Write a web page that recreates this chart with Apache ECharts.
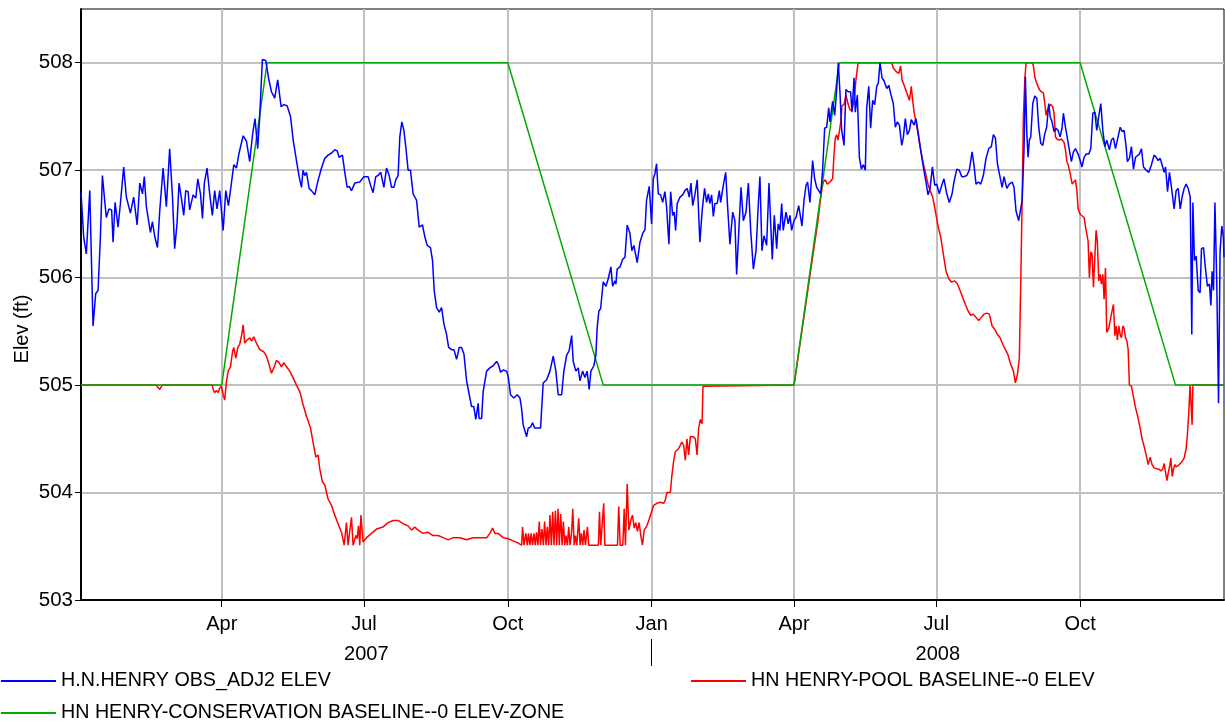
<!DOCTYPE html>
<html><head><meta charset="utf-8">
<script src="https://cdn.jsdelivr.net/npm/echarts@6/dist/echarts.min.js"></script>
<style>html,body{margin:0;padding:0;background:#fff}#c{width:1225px;height:725px}</style>
</head><body><div id="c"></div>
<script>
// x values are days since 2007-01-01
const monthTickDays = [90,181,273,365,456,547,639];
const monthTickLabels = ['Apr','Jul','Oct','Jan','Apr','Jul','Oct'];
const yearLabelDays = [182.5,548];
const yearLabels = ['2007','2008'];
const yearSeparatorDays = [365];
const yTicks = [503,504,505,506,507,508];
const seriesNames = ['H.N.HENRY OBS_ADJ2 ELEV','HN HENRY-POOL BASELINE--0 ELEV','HN HENRY-CONSERVATION BASELINE--0 ELEV-ZONE'];

const blueObs = [[0,506.80],[1.7,506.38],[3.4,506.22],[5.6,506.81],[6.8,506.81],[7.7,505.55],[9.4,505.85],[10.9,505.88],[12.4,506.38],[13.7,506.95],[15,506.74],[16.2,506.56],[17.9,506.64],[19.6,506.63],[20.5,506.33],[21.8,506.70],[23.7,506.47],[25.2,506.69],[27.3,507.03],[29,506.75],[31.6,506.60],[33.7,506.75],[35.9,506.49],[37.6,506.88],[39.3,506.78],[40.5,506.94],[41.8,506.66],[44.4,506.42],[45.7,506.52],[47.2,506.38],[48.9,506.28],[50.4,506.63],[52.5,507.02],[54.6,506.66],[56.7,507.20],[58.5,506.75],[59.9,506.27],[61.4,506.50],[62.7,506.88],[64.2,506.74],[65.7,506.58],[67,506.81],[68.5,506.80],[69.5,506.63],[71.7,506.77],[73.4,506.74],[74.7,506.92],[76.4,506.78],[77.7,506.55],[78.9,506.88],[80.6,507.02],[82.3,506.78],[84,506.58],[85.5,506.81],[87,506.64],[88.7,506.81],[90.9,506.44],[92.6,506.81],[94.3,506.67],[96.2,506.88],[97.7,507.05],[99.4,507.02],[101.1,507.16],[103.7,507.32],[105.8,507.27],[107.9,507.08],[109.7,507.33],[111.3,507.48],[113,507.20],[114.3,507.50],[116,508.03],[118.2,508.02],[119.9,507.86],[121.8,507.73],[123.9,507.67],[125.8,507.84],[128,507.59],[129.7,507.61],[131.8,507.60],[134,507.50],[135.7,507.28],[137.8,507.09],[139.5,506.94],
[141.0,506.84],[142.0,507.00],[143.1,506.95],[144.2,506.98],[145.9,506.83],[147.4,506.81],[149.5,506.77],[151.7,506.91],[153.8,507.02],[155.9,507.11],[158.0,507.14],[160.2,507.16],[162.3,507.19],[163.8,507.18],[165.1,507.12],[167.2,507.14],[168.7,506.98],[170.2,506.84],[171.5,506.85],[173.0,506.81],[175.1,506.88],[178.3,506.89],[180.9,506.94],[183.6,506.94],[185.2,506.86],[186.8,506.79],[188.5,506.94],[190.0,506.95],[191.7,506.98],[193.7,506.84],[195.4,507.02],[197.1,506.95],[198.6,506.84],[200.1,506.84],[201.3,506.91],[202.8,506.95],[203.9,507.31],[205.2,507.45],[206.5,507.37],[207.7,507.22],[209.2,507.00],[210.7,507.00],[212.4,506.78],[214.6,506.72],[216.3,506.47],[218.4,506.49],[219.9,506.38],[221.4,506.30],[223.5,506.28],[224.8,506.16],[225.9,505.88],[227.4,505.72],[229.1,505.68],[230.6,505.72],[232.1,505.57],[233.8,505.47],[235.1,505.35],[237.0,505.33],[238.5,505.33],[240.2,505.24],[241.9,505.35],[243.4,505.35],[244.9,505.29],[246.6,505.04],[248.3,504.91],[249.8,504.80],[251.2,504.80],[252.5,504.68],[254.0,504.83],[254.6,504.69],[256.2,504.69],[257.2,504.94],[259.4,505.13],[261.5,505.16],[263.6,505.18],[265.8,505.22],[267.0,505.19],[268.3,505.12],[270.0,505.14],[272.2,505.13],[273.2,505.08],[274.7,504.91],[276.8,504.88],[279.0,504.91],[280.7,504.88],
[281.7,504.79],[282.8,504.63],[285.0,504.52],[286.0,504.60],[287.5,504.61],[288.8,504.65],[290.1,504.60],[291.4,504.60],[293.9,504.60],[295.6,505.02],[297.8,505.05],[299.9,505.13],[302.0,505.27],[303.7,505.13],[305.2,504.91],[307.4,504.91],[308.8,505.13],[310.6,505.28],[312.2,505.32],[313.8,505.46],[314.8,505.22],[316.5,505.13],[318.0,505.16],[319.1,505.04],[320.8,505.13],[322.3,505.07],[323.7,505.13],[325.0,504.96],[326.1,505.13],[328.0,505.18],[329.3,505.28],[330.1,505.53],[331.2,505.69],[332.3,505.71],[334.0,505.96],[335.7,505.92],[337.2,505.99],[338.9,506.10],[340.0,505.92],[341.5,505.97],[342.1,505.94],[342.9,506.08],[344.7,506.10],[346.4,506.17],[347.9,506.19],[349.3,506.49],[351.1,506.41],[352.3,506.25],[353.6,506.30],[355.7,506.14],[357.5,506.33],[359.2,506.41],[360.7,506.45],[361.7,506.72],[363.4,506.85],[364.9,506.50],[366.0,506.92],[367.1,506.97],[368.1,507.06],[369.2,506.78],[370.7,506.77],[372.0,506.70],[373.4,506.80],[374.5,506.66],[376.0,506.31],[377.1,506.80],[378.4,506.58],[379.4,506.61],[380.3,506.44],[381.3,506.69],[383.1,506.75],[384.8,506.77],[386.2,506.81],[387.7,506.83],[389.0,506.75],[390.1,506.88],[391.2,506.67],[392.6,506.77],[394.1,506.91],[395.8,506.33],[397.3,506.63],[398.8,506.83],[400.1,506.70],[401.2,506.78],[402.2,506.69],[403.3,506.77],[404.4,506.57],[405.4,506.69],[406.9,506.69],[408.2,506.81],[409.1,506.70],[410.8,506.86],[412.3,506.98],[413.3,506.72],[415.0,506.31],[416.8,506.61],[418.2,506.53],[419.3,506.03],[420.4,506.02],[422.1,506.84],[423.6,506.53],[425.3,506.61],[426.8,506.88],[428.3,506.44],[430.0,506.08],[431.7,506.25],[433.2,506.69],[434.2,506.94],[435.5,506.25],[436.8,506.39],[438.5,506.30],[440.0,506.88],[441.1,506.50],[442.1,506.17],[443.4,506.58],[444.9,506.27],[445.9,506.50],[447.0,506.44],[448.1,506.69],[449.1,506.44],[450.9,506.61],[452.3,506.50],[453.4,506.58],[454.5,506.44],[456.0,506.53],[457.3,506.56],[459.0,506.67],
[459.8,506.67],[461.1,506.48],[462.4,506.72],[463.7,506.86],[464.7,506.89],[466.2,506.70],[467.9,507.09],[469.2,506.92],[470.5,506.84],[471.8,506.81],[473.1,506.78],[474.3,507.00],[475.6,507.39],[476.9,507.40],[478.2,507.58],[479.0,507.45],[480.7,507.64],[482.0,507.51],[483.3,507.75],[484.3,508.00],[485.4,507.72],[486.5,507.37],[488.0,507.23],[489.2,507.75],[490.7,507.73],[492.2,507.73],[493.1,507.54],[494.4,507.86],[495.2,507.54],[496.5,507.70],[497.8,507.12],[499.1,507.01],[500.3,507.05],[501.6,507.00],[502.5,507.58],[503.8,507.78],[505.0,507.39],[506.3,507.65],[507.6,507.61],[508.9,507.78],[509.9,507.81],[511.0,508.00],[512.3,507.86],[513.6,507.83],[515.3,507.76],[516.6,507.79],[518.2,507.69],[519.5,507.62],[520.8,507.40],[522.1,507.45],[523.4,507.42],[524.9,507.23],[525.9,507.30],[527.2,507.48],[528.5,507.33],[529.8,507.37],[531.0,507.47],[532.8,507.42],[534.0,507.48],[535.5,507.34],[537.0,507.19],[538.7,507.03],[540.4,506.89],[541.7,506.77],[543.0,506.83],[544.5,507.03],[546.0,506.86],[547.3,506.87],[548.9,506.78],[550.5,506.86],[551.9,506.92],[553.7,506.78],[555.3,506.70],[557.1,506.78],[558.3,506.89],[560.1,507.01],[561.7,507.00],[563.3,506.94],[564.7,506.94],[566.5,506.95],[568.1,507.00],[569.9,507.17],[571.1,507.05],[572.4,506.87],[573.9,506.89],[575.4,506.87],[577.1,506.95],[578.8,507.11],[580.5,507.20],[582.2,507.22],[583.5,507.33],[584.8,507.30],[586.1,507.06],[587.3,506.97],[589.1,506.84],[590.3,506.94],[592.1,506.83],[593.7,506.87],[595.5,506.89],[596.7,506.84],[598.0,506.62],[599.7,506.53],
[600.6,506.53],[601.9,506.72],[603.1,507.19],[604.0,507.87],[604.9,507.34],[605.7,507.12],[606.5,507.28],[607.4,507.31],[608.7,507.62],[610.0,507.69],[611.3,507.67],[612.5,507.40],[613.8,507.25],[615.1,507.23],[616.4,507.34],[617.6,507.40],[618.9,507.62],[619.8,507.50],[621.0,507.45],[622.3,507.36],[623.6,507.39],[624.9,507.37],[626.2,507.31],[627.4,507.39],[628.3,507.53],[629.6,507.40],[630.8,507.39],[632.1,507.19],[633.4,507.08],[634.7,507.17],[636.0,507.20],[637.7,507.15],[639.0,507.09],[640.2,507.03],[641.5,507.12],[642.8,507.15],[644.5,507.15],[645.8,507.20],[647.1,507.53],[648.4,507.54],[649.6,507.37],[650.9,507.50],[652.2,507.62],[653.5,507.37],[654.8,507.22],[656.0,507.28],[657.7,507.19],[659.0,507.28],[660.3,507.30],[661.6,507.20],[662.8,507.28],[664.6,507.40],[665.8,507.36],[667.1,507.37],[668.4,507.22],[669.2,507.08],[670.5,507.11],[671.8,507.22],[673.1,507.01],[674.4,507.12],[675.6,507.12],[676.9,507.15],[678.2,507.20],[679.5,507.03],[681.2,507.00],[682.9,506.98],[684.6,507.05],[686.3,507.14],[687.6,507.12],[688.9,507.09],[690.2,507.11],[691.4,507.05],[692.7,506.98],[693.6,507.03],[694.9,506.80],[696.1,506.98],[697.4,506.84],[699.1,506.64],[700.4,506.81],[701.7,506.83],[703.0,506.64],[704.2,506.75],[705.5,506.83],[706.8,506.87],[708.1,506.83],[709.4,506.75],[710.4,505.47],[711.1,506.70],[712.1,506.16],[713.2,506.20],[714.5,505.88],[715.7,505.86],[716.6,506.27],[717.9,506.28],[719.1,506.09],[720.4,505.92],[721.7,505.94],[722.6,505.74],[723.4,506.06],[724.3,505.88],[725.2,506.70],[726.4,505.94],[727.5,504.83],[728.5,506.25],[729.6,506.48],[730.6,506.38],[731,506.19]];

const redPool = [[0,505],[48,505],[50.4,504.96],[52,505],[84,505],[84.5,504.96],[85.5,504.93],[86.6,504.95],[87.7,504.93],[88.7,504.97],[89.8,504.99],[90.9,504.91],[91.9,504.86],[93.0,505.03],[94.1,505.13],[95.6,505.17],[96.9,505.31],[97.7,505.35],[99.0,505.25],[100.3,505.35],[101.5,505.38],[102.8,505.47],[103.7,505.56],[104.7,505.39],[106.2,505.42],[107.9,505.44],[109.2,505.41],[110.5,505.45],[112.2,505.39],[114.3,505.33],[116.9,505.31],[118.6,505.27],[120.3,505.19],[121.8,505.11],[123.3,505.16],[125.0,505.23],[126.7,505.21],[128.2,505.17],[129.7,505.21],[131.4,505.17],[133.5,505.13],[135.6,505.07],[137.8,505.00],[139.9,504.94],[142.0,504.82],[144.2,504.71],[146.8,504.60],[148.4,504.47],[150.2,504.33],[151.6,504.35],[152.7,504.22],[154.4,504.10],[155.9,504.07],[158.0,503.94],[160.2,503.88],[162.3,503.79],[164.4,503.71],[166.6,503.63],[168.3,503.51],[169.8,503.72],[170.8,503.51],[171.9,503.51],[173.0,503.77],[174.0,503.51],[175.8,503.60],[176.6,503.57],[177.5,503.69],[178.3,503.51],[179.0,503.79],[180.4,503.54],[182.6,503.58],[185.8,503.62],[189.0,503.66],[193.2,503.68],[196.4,503.72],[199.6,503.74],[202.8,503.74],[206.0,503.71],[209.2,503.69],[211.4,503.65],[213.5,503.68],[215.6,503.65],[218.8,503.62],[222.0,503.63],[225.2,503.60],[228.4,503.60],[231.6,503.58],[234.8,503.56],[238.0,503.58],[242.3,503.58],[246.6,503.56],[250.8,503.58],[255.1,503.58],[259.4,503.58],[261.5,503.62],[263.2,503.67],[264.7,503.62],[266.8,503.62],[270.0,503.58],[273.2,503.57],[276.4,503.55],[279.6,503.53],[281.8,503.51],
[282.4,503.68],[283.3,503.51],[284.5,503.62],[285.4,503.51],[286.2,503.62],[287.1,503.51],[287.9,503.62],[288.8,503.51],[289.7,503.62],[290.5,503.51],[291.4,503.63],[292.2,503.51],[293.1,503.73],[293.9,503.51],[294.8,503.66],[295.7,503.51],[296.5,503.73],[297.4,503.51],[298.2,503.68],[299.1,503.51],[299.9,503.79],[300.8,503.51],[301.7,503.82],[302.5,503.51],[303.4,503.83],[304.2,503.51],[305.1,503.85],[305.9,503.51],[306.8,503.80],[307.7,503.51],[308.5,503.73],[309.4,503.51],[310.2,503.60],[311.1,503.51],[311.9,503.68],[312.8,503.51],[313.7,503.62],[314.5,503.85],[315.4,503.51],[316.2,503.60],[317.1,503.51],[318.3,503.76],[319.2,503.51],[320.0,503.62],[320.9,503.51],[321.7,503.65],[322.6,503.51],[323.9,503.68],[324.7,503.51],[330.9,503.51],[331.6,503.82],[332.4,503.51],[334.3,503.90],[335.0,503.51],[343.1,503.51],[343.9,503.87],[344.8,503.51],[346.5,503.51],[347.4,503.85],[348.2,503.51],[349.3,504.08],[350.4,503.65],[351.6,503.74],[352.7,503.79],[353.8,503.67],[354.8,503.72],[355.9,503.64],[357.0,503.72],[358.0,503.60],[359.1,503.51],[360.2,503.65],[361.9,503.69],[363.6,503.76],[366.2,503.88],[368.3,503.90],[370.4,503.91],[372.6,503.90],[373.7,503.93],[374.7,504.00],[376.9,504.00],[377.9,504.16],[379.0,504.29],[380.1,504.38],[382.2,504.41],[384.3,504.47],[385.4,504.44],[386.5,504.30],[387.5,504.50],[388.6,504.35],[389.7,504.52],[391.4,504.52],[392.9,504.50],[394.0,504.35],[395.0,504.60],[396.1,504.68],[397.2,504.64],[397.8,504.99],[398.7,505.00],[456,505.00],[466,506.00],[471.5,506.55],
[472.6,506.69],[473.7,506.81],[474.7,506.89],[476.0,506.91],[477.3,506.87],[479.0,506.89],[480.7,506.92],[481.6,507.15],[482.4,507.30],[483.3,507.33],[484.1,507.28],[485.0,507.36],[485.9,507.45],[486.7,507.60],[488.0,507.61],[489.2,507.70],[490.5,507.62],[491.8,507.56],[493.1,507.56],[494.4,507.65],[495.6,507.84],[496.9,507.99],[498.2,508.00],[518.5,508.00],[519.5,507.95],[521.2,507.92],[523.0,507.90],[524.2,507.97],[525.1,507.84],[526.4,507.79],[528.1,507.72],[529.8,507.65],[531.0,507.78],[531.9,507.65],[532.8,507.54],[534.0,507.45],[535.3,507.34],[536.6,507.22],[537.9,507.12],[539.2,507.03],[540.4,507.03],[541.7,506.87],[543.0,506.81],[544.7,506.75],[546.4,506.62],[548.1,506.48],[549.8,506.38],[551.5,506.22],[553.2,506.06],[555.0,505.99],[556.6,505.96],[558.8,505.97],[560.5,505.94],[562.2,505.88],[564.0,505.81],[565.6,505.75],[567.3,505.69],[569.0,505.65],[570.7,505.66],[572.4,505.63],[574.1,505.60],[575.8,505.63],[577.5,505.66],[579.3,505.67],[580.9,505.66],[582.7,505.55],[584.4,505.52],[586.1,505.47],[587.8,505.44],[589.5,505.38],[591.2,505.33],[592.9,505.28],[594.2,505.21],[596.3,505.13],[597.6,505.02],[598.9,505.10],[600.1,505.25],[601.0,505.94],[601.9,506.72],[602.7,507.50],[603.6,507.84],[604.4,508.00],[608.2,508.00],[609.0,507.98],[610.1,507.86],[611.2,507.81],[612.9,507.75],[614.2,507.73],[615.5,507.72],[616.4,507.62],[617.2,507.51],[618.1,507.56],[618.9,507.59],[620.2,507.61],[621.5,507.59],[622.3,507.53],[623.2,507.31],[624.1,507.29],[625.7,507.28],[627.0,507.29],[627.9,507.28],[628.7,507.26],[629.6,507.19],[630.5,507.08],[631.3,507.05],[632.6,506.97],[633.9,506.87],[635.1,506.86],[636.0,506.91],[636.9,506.81],[637.7,506.64],[639.0,506.59],[640.2,506.58],[641.5,506.56],[642.8,506.44],[644.1,506.34],[644.9,506.00],[645.8,506.24],[646.6,506.22],[647.5,505.91],[648.4,505.91],[649.2,506.44],[650.0,506.34],[650.9,505.97],[651.8,506.03],[652.6,505.94],[653.5,506.03],[654.3,505.80],[655.2,506.09],[656.0,505.49],[657.3,505.53],[658.6,505.63],[659.4,505.69],[660.3,505.75],[661.2,505.46],[662.0,505.55],[662.8,505.42],[663.7,505.55],[664.6,505.47],[665.4,505.44],[666.3,505.55],[667.1,505.53],[668.0,505.44],[668.9,505.41],[669.7,505.33],[670.5,505.00],[671.8,504.99],[673.1,504.89],[674.4,504.79],[675.6,504.72],[677.4,504.60],[678.6,504.50],[679.9,504.43],[681.2,504.35],[682.5,504.26],[683.8,504.33],[685.0,504.26],[686.3,504.23],[688.0,504.22],[689.3,504.22],[690.6,504.20],[691.9,504.22],[692.7,504.27],[693.6,504.19],[694.5,504.11],[695.3,504.18],[696.2,504.24],[697.0,504.32],[697.9,504.15],[698.7,504.22],[699.6,504.26],[700.4,504.24],[701.7,504.25],[703.0,504.27],[704.2,504.29],[705.5,504.32],[706.8,504.41],[707.6,504.54],[708.5,504.75],[709.3,505.00],[710.2,504.99],[710.6,504.63],[711.1,505.00],[731,505.00]];

const greenZone = [[0,505],[90,505],[119,508],[273,508],[334,505],[456,505],[485,508],[639,508],[700,505],[731,505]];

const FONT = 'Liberation Sans, Arial, sans-serif';
const chart = echarts.init(document.getElementById('c'), null, {renderer:'canvas'});
const lookup = (vals, labels) => v => { const i = vals.findIndex(d => Math.abs(d - v) < 0.01); return i >= 0 ? labels[i] : ''; };

const legendBase = {icon:'rect', itemWidth:55, itemHeight:2, padding:0, selectedMode:false,
  textStyle:{fontSize:19.7, fontFamily:FONT, color:'#000'}};

chart.setOption({
  animation:false,
  backgroundColor:'#fff',
  grid:{left:81, right:1, top:9, bottom:125, show:true, borderColor:'#000', borderWidth:1},
  xAxis:[
    {type:'value', min:0, max:731, position:'bottom',
     axisLine:{show:true, onZero:false, lineStyle:{color:'#000', width:2}},
     axisTick:{show:true, customValues:monthTickDays, length:7, lineStyle:{color:'#000', width:1}},
     axisLabel:{customValues:monthTickDays, formatter:lookup(monthTickDays, monthTickLabels), fontSize:20, fontFamily:FONT, color:'#000', margin:14},
     splitLine:{show:true, lineStyle:{color:'#c0c0c0', width:2}}},
    {type:'value', min:0, max:731, position:'bottom', offset:39,
     axisLine:{show:false},
     axisTick:{show:true, customValues:yearSeparatorDays, length:27, lineStyle:{color:'#000', width:1}},
     axisLabel:{customValues:yearLabelDays, formatter:lookup(yearLabelDays, yearLabels), fontSize:20, fontFamily:FONT, color:'#000', margin:5},
     splitLine:{show:false}}
  ],
  yAxis:{type:'value', min:503, max:508.5,
     axisLine:{show:true, lineStyle:{color:'#000', width:2}},
     axisTick:{show:true, customValues:yTicks, length:6, lineStyle:{color:'#000', width:1}},
     axisLabel:{customValues:yTicks, fontSize:20.5, fontFamily:FONT, color:'#000', margin:8},
     splitLine:{show:true, lineStyle:{color:'#c0c0c0', width:2}}},
  legend:[
    Object.assign({}, legendBase, {data:[seriesNames[0]], left:1, top:671}),
    Object.assign({}, legendBase, {data:[seriesNames[1]], left:691, top:671}),
    Object.assign({}, legendBase, {data:[seriesNames[2]], left:1, top:703})
  ],
  graphic:[{type:'text', x:22, y:329, rotation:Math.PI/2,
    style:{text:'Elev (ft)', fontSize:20, fontFamily:FONT, fill:'#000', align:'center', verticalAlign:'middle', textAlign:'center', textVerticalAlign:'middle'}}],
  series:[
    {name:seriesNames[1], type:'line', data:redPool, showSymbol:false, symbol:'none', z:2,
     lineStyle:{color:'#ff0000', width:1.5}, itemStyle:{color:'#ff0000'}},
    {name:seriesNames[2], type:'line', data:greenZone, showSymbol:false, symbol:'none', z:3,
     lineStyle:{color:'#00aa00', width:1.5}, itemStyle:{color:'#00aa00'}},
    {name:seriesNames[0], type:'line', data:blueObs, showSymbol:false, symbol:'none', z:4,
     lineStyle:{color:'#0000ff', width:1.5}, itemStyle:{color:'#0000ff'}}
  ]
});
</script></body></html>
